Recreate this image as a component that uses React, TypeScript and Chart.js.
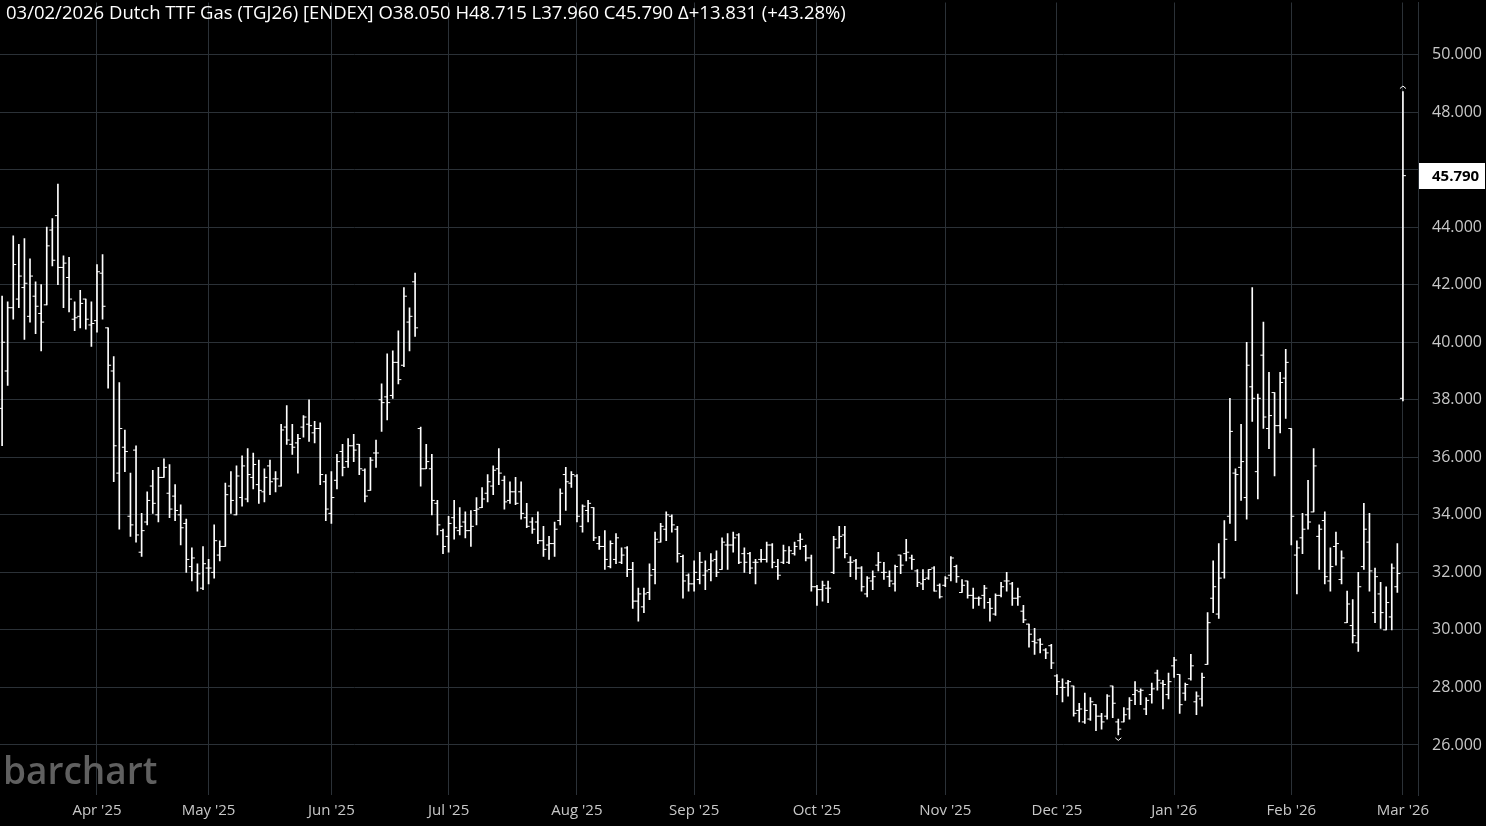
import React, { useEffect, useRef } from "react";
import { Chart, registerables } from "chart.js";

Chart.register(...registerables);

// ---- categories (trading days) ----
const startDate = "2025-03-07";
const endDate = "2026-03-02";
const holidays = ["2025-04-18", "2025-04-21", "2025-12-25", "2025-12-26", "2026-01-01"];
const monthNames = ["Jan", "Feb", "Mar", "Apr", "May", "Jun", "Jul", "Aug", "Sep", "Oct", "Nov", "Dec"];

// ---- series values (OHLC) ----
const opens = [
  37.7, 39.0, 41.2, 41.5, 41.9, 40.9, 41.6, 41.0, 41.3, 43.9, 44.4, 42.6, 42.25, 40.8, 40.9, 41.5, 40.6,
  40.75, 42.4, 40.5, 39.0, 35.45, 36.35, 33.95, 36.25, 32.7, 33.75, 35.0, 34.0, 35.3, 34.75, 34.65, 34.0,
  33.7, 32.2, 32.0, 31.45, 32.15, 32.0, 32.6, 32.9, 35.0, 34.0, 34.6, 34.55, 35.3, 35.05, 34.8, 35.7,
  35.25, 35.0, 37.05, 36.45, 36.5, 37.05, 37.15, 36.85, 37.0, 35.15, 34.05, 35.2, 36.2, 35.85, 36.4,
  36.45, 35.55, 34.85, 36.15, 38.0, 38.1, 38.15, 39.3, 39.2, 40.7, 42.1, 37.0, 35.6, 35.6, 34.4, 33.45,
  33.25, 33.9, 33.45, 33.75, 33.45, 34.15, 34.25, 34.75, 35.0, 35.6, 35.2, 34.5, 34.8, 34.8, 33.9, 33.75,
  33.75, 33.1, 32.95, 33.0, 33.8, 35.4, 35.1, 35.35, 33.6, 34.15, 34.25, 33.0, 32.9, 32.2, 32.45, 32.35,
  32.85, 32.1, 31.0, 30.8, 31.3, 32.1, 33.05, 33.5, 33.95, 33.5, 32.55, 31.9, 31.6, 31.75, 31.9, 32.1,
  32.45, 32.1, 32.95, 32.95, 33.3, 32.65, 32.65, 32.35, 32.45, 32.45, 32.95, 32.2, 32.35, 32.35, 32.65,
  33.1, 32.9, 32.5, 31.5, 31.4, 31.45, 32.0, 32.85, 33.3, 32.35, 32.4, 32.15, 31.25, 31.7, 32.25, 32.0,
  31.85, 31.6, 32.6, 32.65, 32.5, 32.05, 31.6, 31.8, 32.15, 31.55, 31.55, 31.9, 32.2, 31.3, 31.7, 31.2,
  31.1, 31.2, 30.95, 30.55, 31.2, 31.7, 31.6, 31.1, 30.65, 30.2, 29.6, 29.65, 29.3, 29.45, 28.4, 28.0,
  28.15, 28.05, 27.2, 26.8, 26.9, 27.4, 27.0, 27.0, 28.05, 26.8, 26.8, 27.25, 27.75, 27.85, 27.25, 27.75,
  28.5, 28.15, 27.75, 28.75, 28.45, 27.8, 28.3, 27.5, 27.6, 28.8, 31.1, 30.55, 32.0, 33.95, 35.45, 35.65,
  34.6, 38.45, 35.5, 39.55, 37.0, 38.25, 37.1, 38.75, 37.0, 32.6, 33.2, 34.0, 34.1, 33.25, 33.8, 31.7,
  32.9, 31.75, 30.25, 30.15, 29.55, 32.2, 33.05, 30.6, 31.25, 30.0, 30.45, 31.5, 38.05,
];
const highs = [
  41.6, 41.4, 43.7, 43.4, 43.6, 42.9, 42.1, 42.0, 44.0, 44.3, 45.5, 43.0, 42.95, 41.4, 41.8, 41.5, 41.4,
  42.7, 43.05, 40.5, 39.5, 38.6, 36.95, 35.45, 36.4, 34.05, 34.8, 35.55, 35.65, 35.95, 35.75, 35.05, 34.35,
  33.85, 32.85, 32.3, 32.9, 32.45, 33.65, 33.1, 35.1, 35.5, 35.7, 36.05, 36.3, 36.15, 35.9, 35.6, 35.9,
  35.5, 37.15, 37.8, 37.15, 36.8, 37.45, 38.0, 37.25, 37.2, 35.4, 35.5, 36.1, 36.45, 36.65, 36.8,
  36.45, 35.6, 36.0, 36.6, 38.55, 39.6, 39.7, 40.4, 41.9, 41.2, 42.4, 37.05, 36.45, 36.1, 34.5, 33.5,
  33.95, 34.5, 34.25, 34.1, 34.15, 34.6, 34.95, 35.4, 35.7, 36.3, 35.35, 35.15, 35.3, 35.15, 34.4, 33.9,
  34.1, 33.6, 33.25, 33.75, 34.9, 35.65, 35.5, 35.4, 34.35, 34.5, 34.25, 33.25, 33.45, 33.1, 33.35, 32.85,
  32.9, 32.35, 31.45, 31.45, 32.3, 33.4, 33.7, 34.1, 34.0, 33.6, 32.6, 31.95, 32.4, 32.7, 32.4, 32.65,
  32.75, 33.2, 33.35, 33.4, 33.35, 32.85, 32.7, 32.45, 32.8, 33.05, 33.0, 32.45, 32.95, 32.9, 33.05,
  33.35, 32.95, 32.6, 31.55, 31.7, 31.7, 33.25, 33.6, 33.6, 32.55, 32.45, 32.2, 31.85, 32.05, 32.7, 32.35,
  32.05, 32.25, 32.6, 33.15, 32.6, 32.1, 32.1, 32.1, 32.2, 31.6, 31.85, 32.55, 32.25, 31.75, 31.7, 31.45,
  31.15, 31.55, 31.1, 31.25, 31.65, 32.0, 31.65, 31.45, 30.85, 30.2, 30.05, 29.7, 29.35, 29.5, 28.45, 28.3,
  28.25, 28.05, 27.45, 27.8, 27.65, 27.4, 27.1, 27.75, 28.05, 26.9, 27.3, 27.65, 28.2, 27.95, 27.65, 28.15,
  28.6, 28.25, 28.5, 29.05, 28.45, 28.15, 29.15, 27.85, 28.5, 30.6, 32.4, 33.0, 33.8, 38.05, 35.6, 37.15,
  40.0, 41.9, 38.2, 40.7, 38.95, 38.25, 38.95, 39.75, 37.0, 33.1, 34.05, 35.2, 36.3, 33.65, 34.1, 32.85,
  33.4, 32.75, 31.35, 31.05, 32.0, 34.4, 34.05, 32.15, 31.65, 31.5, 32.3, 33.0, 48.715,
];
const lows = [
  36.4, 38.5, 40.8, 41.2, 40.1, 40.7, 40.3, 39.7, 41.3, 42.65, 42.0, 41.2, 41.05, 40.4, 40.5, 40.45, 39.85,
  40.35, 40.8, 38.4, 35.15, 33.5, 35.5, 33.25, 33.05, 32.55, 33.65, 34.05, 33.75, 35.3, 33.9, 33.8, 32.95,
  32.0, 31.7, 31.35, 31.4, 31.6, 31.8, 32.4, 32.9, 34.05, 34.0, 34.3, 34.45, 34.9, 34.4, 34.45, 34.7,
  34.8, 35.0, 36.45, 36.1, 35.45, 36.7, 36.55, 36.5, 35.05, 33.8, 33.7, 34.9, 35.35, 35.65, 35.85,
  35.4, 34.45, 34.85, 35.65, 36.9, 37.3, 38.05, 38.55, 39.15, 39.7, 40.2, 35.0, 35.6, 34.0, 33.3, 32.65,
  32.7, 33.15, 33.3, 33.2, 32.9, 33.65, 34.25, 34.45, 34.7, 35.05, 34.2, 34.4, 34.35, 33.85, 33.55, 33.35,
  33.0, 32.55, 32.45, 32.55, 33.65, 34.15, 34.95, 33.75, 33.4, 33.75, 33.1, 32.8, 32.1, 32.15, 32.3, 32.3,
  31.85, 30.75, 30.3, 30.6, 31.05, 31.6, 33.05, 33.1, 33.4, 32.35, 31.1, 31.35, 31.35, 31.6, 31.4, 31.7,
  31.85, 32.1, 32.1, 32.7, 32.3, 32.0, 31.95, 31.6, 32.35, 32.35, 32.15, 31.75, 32.3, 32.3, 32.6,
  32.8, 32.4, 31.35, 30.85, 31.0, 30.95, 31.95, 32.85, 32.5, 31.85, 31.75, 31.35, 31.15, 31.4, 32.05, 31.75,
  31.5, 31.35, 31.95, 32.4, 32.1, 31.5, 31.4, 31.75, 31.35, 31.1, 31.5, 31.7, 31.65, 31.3, 31.1, 30.75,
  30.85, 30.75, 30.3, 30.5, 31.15, 31.35, 30.85, 30.85, 30.25, 29.4, 29.15, 29.2, 29.0, 28.65, 27.75, 27.5,
  27.7, 27.0, 26.8, 26.75, 26.85, 26.5, 26.55, 26.9, 26.95, 26.35, 26.8, 26.9, 27.4, 27.4, 27.05, 27.45,
  27.9, 27.25, 27.6, 28.35, 27.1, 27.55, 28.25, 27.05, 27.35, 28.8, 30.6, 30.4, 31.8, 33.7, 33.1, 34.5,
  33.85, 37.25, 34.55, 37.0, 36.3, 35.35, 36.85, 37.35, 32.95, 31.25, 32.65, 33.5, 34.1, 32.1, 31.6, 31.35,
  32.25, 31.6, 30.25, 29.55, 29.25, 32.1, 31.35, 30.25, 30.05, 30.0, 30.0, 31.3, 37.96,
];
const closes = [
  40.0, 41.2, 42.7, 42.3, 42.05, 42.3, 41.25, 40.7, 43.35, 42.85, 42.6, 42.75, 41.5, 40.85, 41.35, 40.8, 40.65,
  42.45, 41.25, 39.2, 36.4, 37.0, 36.2, 33.65, 33.3, 33.45, 34.5, 34.4, 35.3, 35.65, 34.2, 34.15, 33.55,
  32.45, 32.5, 31.95, 32.3, 32.15, 33.1, 32.9, 34.7, 34.5, 35.35, 35.7, 35.4, 35.75, 34.85, 35.3, 35.15,
  35.25, 36.95, 36.6, 36.35, 36.65, 37.4, 37.1, 37.0, 35.4, 34.2, 34.6, 35.85, 35.65, 36.4, 36.25,
  35.6, 34.65, 35.9, 36.15, 37.9, 37.9, 39.3, 38.7, 41.6, 40.9, 40.5, 35.6, 35.85, 34.5, 33.65, 32.9,
  33.7, 33.55, 33.6, 33.45, 33.6, 34.2, 34.55, 35.15, 35.55, 35.45, 34.45, 34.8, 34.4, 34.05, 33.6, 33.5,
  33.1, 32.8, 33.0, 33.5, 34.75, 35.15, 35.4, 33.95, 34.3, 34.4, 33.2, 32.9, 32.45, 33.0, 33.2, 32.6,
  32.1, 31.0, 31.25, 31.25, 31.9, 33.15, 33.6, 34.0, 33.65, 32.65, 31.7, 31.6, 32.0, 32.35, 32.05, 32.4,
  32.0, 33.05, 32.95, 33.2, 32.35, 32.35, 32.15, 32.35, 32.45, 32.95, 32.35, 31.9, 32.75, 32.75, 32.9,
  33.15, 32.5, 31.5, 31.4, 31.55, 31.45, 33.15, 33.25, 32.65, 32.35, 32.15, 31.5, 31.8, 31.85, 32.35, 32.0,
  31.7, 32.2, 32.25, 32.7, 32.45, 31.65, 31.75, 32.1, 31.35, 31.15, 31.8, 32.5, 31.85, 31.55, 31.2, 31.1,
  31.1, 31.45, 30.75, 31.2, 31.5, 31.7, 31.1, 31.15, 30.35, 29.85, 29.55, 29.5, 29.2, 28.85, 28.2, 28.0,
  28.2, 27.1, 27.25, 27.2, 27.5, 27.0, 26.8, 27.7, 27.45, 26.55, 27.05, 27.55, 27.9, 27.9, 27.55, 27.95,
  28.25, 28.1, 28.2, 28.95, 27.4, 28.1, 28.75, 27.7, 28.35, 30.25, 31.5, 31.8, 33.15, 36.9, 35.4, 35.85,
  39.2, 38.05, 38.05, 37.4, 37.45, 37.1, 38.6, 39.3, 33.95, 32.85, 33.5, 33.75, 35.7, 33.5, 31.85, 32.2,
  33.0, 32.5, 30.9, 29.8, 31.5, 33.5, 32.05, 31.85, 30.6, 30.95, 32.15, 31.959, 45.79,
];

// ---- tick labels / text ----
const yTickValues = [26, 28, 30, 32, 34, 36, 38, 40, 42, 44, 46, 48, 50];
const titleText = "03/02/2026 Dutch TTF Gas (TGJ26) [ENDEX]";
const watermarkText = "barchart";

function buildTradingDays(): string[] {
  const out: string[] = [];
  const d = new Date(startDate + "T00:00:00Z");
  const end = new Date(endDate + "T00:00:00Z");
  while (d.getTime() <= end.getTime()) {
    const iso = d.toISOString().slice(0, 10);
    const wd = d.getUTCDay();
    if (wd !== 0 && wd !== 6 && !holidays.includes(iso)) out.push(iso);
    d.setUTCDate(d.getUTCDate() + 1);
  }
  return out;
}

const W = 1486;
const H = 826;
const GRID = "#2b3137";
const FONT = '"Open Sans", "Noto Sans", sans-serif';

export default function App() {
  const ref = useRef<HTMLCanvasElement | null>(null);

  useEffect(() => {
    document.body.style.margin = "0";
    document.body.style.background = "#000";
    const days = buildTradingDays();
    const n = closes.length;
    const monthStarts: number[] = [];
    for (let i = 1; i < days.length; i++) {
      if (days[i].slice(5, 7) !== days[i - 1].slice(5, 7)) monthStarts.push(i);
    }
    const xMin = -0.376;
    const xMax = n - 1 + 2.7;
    const plotW = W - 68;
    const pxPerBar = plotW / (xMax - xMin);
    const tickOff = 1.5 / pxPerBar;

    const last = n - 1;
    const chg = closes[last] - closes[last - 1];
    const pct = (chg / closes[last - 1]) * 100;

    let hiIdx = 0;
    let loIdx = 0;
    for (let i = 0; i < n; i++) {
      if (highs[i] > highs[hiIdx]) hiIdx = i;
      if (lows[i] < lows[loIdx]) loIdx = i;
    }

    const overlay = {
      id: "overlay",
      afterLayout(chart: any) {
        // plot area starts flush at the canvas' left edge
        const ca = chart.chartArea;
        ca.left = 0;
        ca.width = ca.right - ca.left;
        const xs = chart.scales.x;
        xs.left = 0;
        xs.width = xs.right - xs.left;
        xs.min = xMin;
        xs.max = xMax;
        xs.configure();
      },
      beforeDatasetsDraw(chart: any) {
        const { ctx, chartArea } = chart;
        ctx.save();
        ctx.font = `600 37px ${FONT}`;
        ctx.fillStyle = "#606060";
        ctx.textBaseline = "alphabetic";
        ctx.textAlign = "left";
        ctx.fillText(watermarkText, 3, chartArea.bottom - 11);
        ctx.restore();
      },
      afterDatasetsDraw(chart: any) {
        const { ctx, scales } = chart;
        ctx.save();
        ctx.strokeStyle = "#ffffff";
        ctx.lineWidth = 1;
        const hx = scales.x.getPixelForValue(hiIdx);
        const hy = scales.y.getPixelForValue(highs[hiIdx]) - 3;
        ctx.beginPath();
        ctx.moveTo(hx - 3, hy);
        ctx.lineTo(hx, hy - 2.5);
        ctx.lineTo(hx + 3, hy);
        ctx.stroke();
        const lx = scales.x.getPixelForValue(loIdx);
        const ly = scales.y.getPixelForValue(lows[loIdx]) + 3;
        ctx.beginPath();
        ctx.moveTo(lx - 3, ly);
        ctx.lineTo(lx, ly + 2.5);
        ctx.lineTo(lx + 3, ly);
        ctx.stroke();
        ctx.restore();
      },
      afterDraw(chart: any) {
        const { ctx, chartArea, scales } = chart;
        ctx.save();
        const parts: string[] = [
          titleText + " ",
          "O" + opens[last].toFixed(3) + " ",
          "H" + highs[last].toFixed(3) + " ",
          "L" + lows[last].toFixed(3) + " ",
          "C" + closes[last].toFixed(3) + " ",
          "Δ" + (chg >= 0 ? "+" : "") + chg.toFixed(3) + " (" + (pct >= 0 ? "+" : "") + pct.toFixed(2) + "%)",
        ];
        ctx.font = `18.5px ${FONT}`;
        ctx.textBaseline = "middle";
        ctx.textAlign = "left";
        ctx.fillStyle = "#ffffff";
        let x = 6;
        for (const t of parts) {
          ctx.fillText(t, x, 13.5);
          x += ctx.measureText(t).width;
        }
        const y = Math.round(scales.y.getPixelForValue(closes[last]));
        ctx.fillStyle = "#ffffff";
        ctx.fillRect(chartArea.right + 1, y - 13, W - chartArea.right - 2, 26);
        ctx.fillStyle = "#000000";
        ctx.font = `bold 15px ${FONT}`;
        ctx.fillText(closes[last].toFixed(3), chartArea.right + 14, y + 1);
        ctx.restore();
      },
    };

    const lastClose = closes[closes.length - 1];

    const chart = new Chart(ref.current as HTMLCanvasElement, {
      type: "bar",
      data: {
        datasets: [
          {
            type: "bar",
            data: highs.map((h, i) => ({ x: i, y: [lows[i], h] })) as any,
            backgroundColor: "#ffffff",
            borderWidth: 0,
            barThickness: 1,
            grouped: false,
          } as any,
          {
            type: "scatter",
            data: opens.map((o, i) => ({ x: i - tickOff, y: o })),
            pointStyle: "line",
            pointRadius: 1.5,
            pointHoverRadius: 1.5,
            borderColor: "#ffffff",
            borderWidth: 1,
          } as any,
          {
            type: "scatter",
            data: closes.map((c, i) => ({ x: i + tickOff, y: c })),
            pointStyle: "line",
            pointRadius: 1.5,
            pointHoverRadius: 1.5,
            borderColor: "#ffffff",
            borderWidth: 1,
          } as any,
        ],
      },
      options: {
        animation: false,
        responsive: false,
        events: [],
        layout: { padding: 0 },
        plugins: { legend: { display: false }, tooltip: { enabled: false } },
        scales: {
          x: {
            type: "linear",
            min: xMin,
            max: xMax,
            offset: false,
            grid: { color: GRID, drawTicks: false, lineWidth: 1, offset: false },
            border: { display: false },
            ticks: {
              autoSkip: false,
              maxRotation: 0,
              color: "#c8c8c8",
              font: { family: FONT, size: 15 },
              padding: 7,
              callback: (v: any) => {
                const d = days[Math.round(v)];
                if (!d) return "";
                return monthNames[parseInt(d.slice(5, 7), 10) - 1] + " '" + d.slice(2, 4);
              },
            },
            afterBuildTicks: (s: any) => {
              s.ticks = monthStarts.map((v) => ({ value: v }));
            },
            afterFit: (s: any) => {
              s.height = 31;
              s.paddingLeft = 0;
              s.paddingRight = 0;
            },
          },
          y: {
            type: "linear",
            position: "right",
            min: 24.26,
            max: 51.81,
            grid: { color: GRID, drawTicks: false, lineWidth: 1 },
            border: { display: true, color: GRID },
            ticks: {
              color: "#c8c8c8",
              font: { family: FONT, size: 16 },
              padding: 14,
              callback: (v: any) => (Math.abs(Number(v) - lastClose) < 0.6 ? "" : Number(v).toFixed(3)),
            },
            afterBuildTicks: (s: any) => {
              s.ticks = yTickValues.map((v) => ({ value: v }));
            },
            afterFit: (s: any) => {
              s.width = 68;
              s.paddingTop = 0;
              s.paddingBottom = 0;
            },
          },
        },
      } as any,
      plugins: [overlay],
    });
    return () => chart.destroy();
  }, []);

  return (
    <div style={{ position: "fixed", left: 0, top: 0, width: W, height: H, background: "#000" }}>
      <canvas ref={ref} width={W} height={H} style={{ display: "block", width: W, height: H }} />
    </div>
  );
}
